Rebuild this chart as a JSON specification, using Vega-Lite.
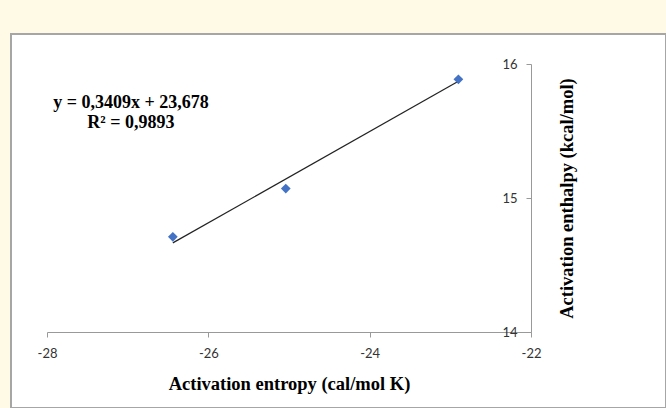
{
  "$schema": "https://vega.github.io/schema/vega-lite/v6.json",
  "width": 655,
  "height": 374,
  "autosize": {"type": "none"},
  "padding": {"left": 11, "top": 34, "right": 0, "bottom": 0},
  "background": "#fffae6",
  "config": {"view": {"fill": "white", "stroke": "#a6a6a6", "strokeWidth": 2}},
  "datasets": {
    "points": [
      {"entropy": -26.44, "enthalpy": 14.71},
      {"entropy": -25.04, "enthalpy": 15.07},
      {"entropy": -22.90, "enthalpy": 15.886}
    ],
    "trend": [
      {"entropy": -26.44, "enthalpy": 14.665},
      {"entropy": -22.90, "enthalpy": 15.871}
    ],
    "notes": [
      {"entropy": -26.96, "enthalpy": 15.712, "label": "y = 0,3409x + 23,678"},
      {"entropy": -26.96, "enthalpy": 15.56, "label": "R² = 0,9893"}
    ]
  },
  "encoding": {
    "x": {
      "field": "entropy",
      "type": "quantitative",
      "scale": {"domain": [-28, -22], "range": [36, 520], "nice": false, "zero": false},
      "axis": {
        "orient": "bottom",
        "offset": -76,
        "values": [-28, -26, -24, -22],
        "grid": false,
        "domainColor": "#999999",
        "domainWidth": 1,
        "tickColor": "#999999",
        "tickSize": 5,
        "labelFlush": false,
        "labelFont": "Lato",
        "labelFontSize": 13,
        "labelColor": "#333333",
        "labelPadding": 10,
        "labelExpr": "'' + datum.value",
        "title": "Activation entropy (cal/mol K)",
        "titleFont": "Liberation Serif",
        "titleFontSize": 18.5,
        "titleFontWeight": "bold",
        "titleColor": "#000000",
        "titleX": 278,
        "titleY": 51,
        "titleAlign": "center",
        "titleBaseline": "middle"
      }
    },
    "y": {
      "field": "enthalpy",
      "type": "quantitative",
      "scale": {"domain": [14, 16], "range": [298, 30], "nice": false, "zero": false},
      "axis": {
        "orient": "right",
        "offset": -135,
        "values": [14, 15, 16],
        "grid": false,
        "domainColor": "#999999",
        "domainWidth": 1,
        "tickColor": "#999999",
        "tickSize": -5,
        "labelFlush": false,
        "labelAlign": "right",
        "labelBaseline": "middle",
        "labelPadding": -9,
        "labelFont": "Lato",
        "labelFontSize": 13,
        "labelColor": "#333333",
        "labelExpr": "'' + datum.value",
        "title": "Activation enthalpy (kcal/mol)",
        "titleFont": "Liberation Serif",
        "titleFontSize": 18.5,
        "titleFontWeight": "bold",
        "titleColor": "#000000",
        "titleAngle": 270,
        "titleX": 35,
        "titleY": 164,
        "titleAlign": "center",
        "titleBaseline": "middle"
      }
    }
  },
  "layer": [
    {
      "data": {"name": "trend"},
      "mark": {"type": "line", "color": "#222222", "strokeWidth": 1.2}
    },
    {
      "data": {"name": "points"},
      "mark": {"type": "point", "shape": "diamond", "filled": true, "color": "#4472c4", "size": 95, "opacity": 1}
    },
    {
      "data": {"name": "notes"},
      "mark": {"type": "text", "font": "Liberation Serif", "fontSize": 18, "fontWeight": "bold", "color": "#000000", "align": "center", "baseline": "middle"},
      "encoding": {"text": {"field": "label", "type": "nominal"}}
    }
  ]
}
